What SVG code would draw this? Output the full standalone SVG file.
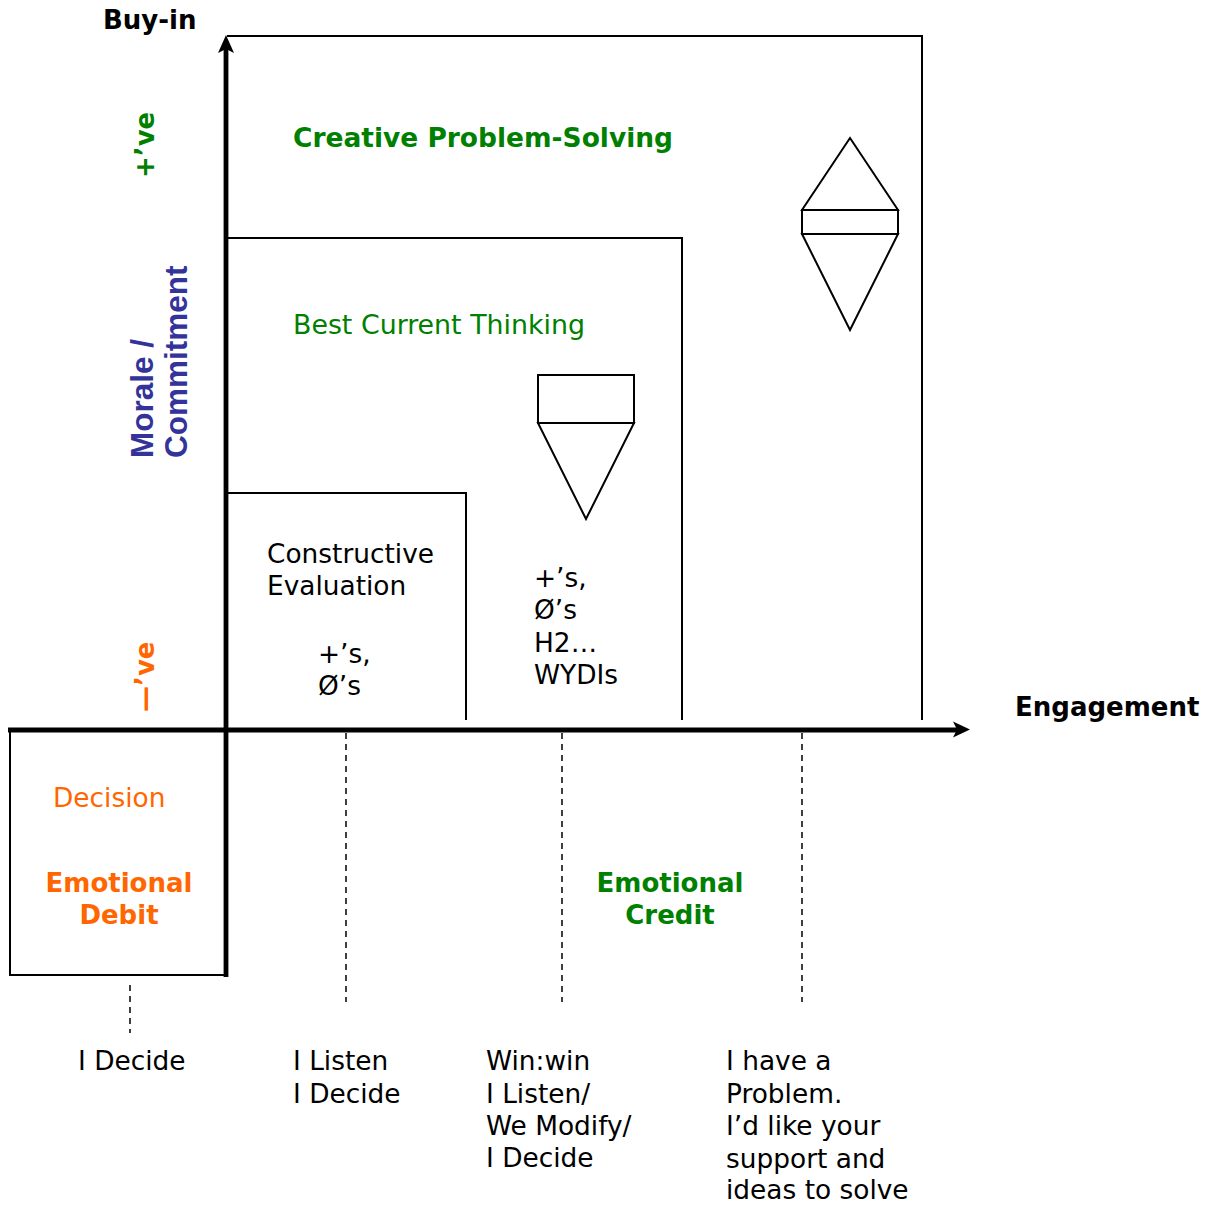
<svg xmlns="http://www.w3.org/2000/svg" width="1219" height="1206" viewBox="0 0 1219 1206">
  <style>
    text { font-family: "DejaVu Sans", Verdana, sans-serif; font-size: 26.4px; fill: #000; }
    .b { font-weight: bold; font-size: 26px; }
    .green { fill: #008000; }
    .orange { fill: #FF6600; }
    .blue { fill: #333399; font-family: "Liberation Sans", Arial, sans-serif; font-weight: bold; font-size: 31.5px; }
    .box { fill: none; stroke: #000; stroke-width: 2; }
    .axis { fill: none; stroke: #000; stroke-width: 4.8; }
    .head { fill: #000; stroke: none; }
    .dash { fill: none; stroke: #000; stroke-width: 1.5; stroke-dasharray: 6 5; }
    .shape { fill: #fff; stroke: #000; stroke-width: 2; stroke-linejoin: miter; }
  </style>
  <rect width="1219" height="1206" fill="#fff"/>

  <!-- nested regions -->
  <g id="creative-problem-solving">
    <polyline class="box" points="227,36 922,36 922,720"/>
    <text x="293" y="147" class="b green" textLength="380" lengthAdjust="spacingAndGlyphs">Creative Problem-Solving</text>
    <g id="diamond">
      <polygon class="shape" points="850,138 898,210 802,210"/>
      <rect class="shape" x="802" y="210" width="96" height="24"/>
      <polygon class="shape" points="802,234 898,234 850,330"/>
    </g>
  </g>
  <g id="best-current-thinking">
    <polyline class="box" points="227,238 682,238 682,720"/>
    <text x="293" y="334" class="green" textLength="292" lengthAdjust="spacingAndGlyphs">Best Current Thinking</text>
    <g id="funnel">
      <rect class="shape" x="538" y="375" width="96" height="48"/>
      <polygon class="shape" points="538,423 634,423 586,519"/>
    </g>
    <text x="534" y="587">+’s,</text>
    <text x="534" y="619">Ø’s</text>
    <text x="534" y="652">H2…</text>
    <text x="534" y="684">WYDIs</text>
  </g>
  <g id="constructive-evaluation">
    <polyline class="box" points="227,493 466,493 466,720"/>
    <text x="267" y="563">Constructive</text>
    <text x="267" y="595">Evaluation</text>
    <text x="318" y="663">+’s,</text>
    <text x="318" y="695">Ø’s</text>
  </g>
  <g id="emotional-debit">
    <polyline class="box" points="226,975 10,975 10,730"/>
    <text x="53" y="807" class="orange">Decision</text>
    <text x="119" y="892" class="b orange" text-anchor="middle">Emotional</text>
    <text x="119" y="924" class="b orange" text-anchor="middle">Debit</text>
  </g>
  <g id="emotional-credit">
    <text x="670" y="892" class="b green" text-anchor="middle">Emotional</text>
    <text x="670" y="924" class="b green" text-anchor="middle">Credit</text>
  </g>

  <!-- axes and guides -->
  <g id="connectors">
    <line class="axis" x1="226" y1="977" x2="226" y2="48"/>
    <path class="head" d="M226,35 L234,53 L226,49 L218,53 Z"/>
    <line class="axis" x1="8" y1="730" x2="958" y2="730"/>
    <path class="head" d="M970,729.5 L953,737.5 L957,729.5 L953,721.5 Z"/>
    <line class="dash" x1="130" y1="985" x2="130" y2="1033"/>
    <line class="dash" x1="346" y1="733" x2="346" y2="1002"/>
    <line class="dash" x1="562" y1="733" x2="562" y2="1002"/>
    <line class="dash" x1="802" y1="733" x2="802" y2="1002"/>
  </g>

  <!-- axis labels -->
  <g id="axis-labels">
    <text x="103" y="29" class="b">Buy-in</text>
    <text x="1015" y="716" class="b">Engagement</text>
    <text class="b green" transform="translate(154,178) rotate(-90)">+’ve</text>
    <text class="b orange" transform="translate(154,712) rotate(-90)">—’ve</text>
    <text class="blue" transform="translate(153,458) rotate(-90)">Morale /</text>
    <text class="blue" transform="translate(187,458) rotate(-90)">Commitment</text>
  </g>

  <!-- decision styles along the engagement axis -->
  <g id="style-decide">
    <text x="78" y="1070">I Decide</text>
  </g>
  <g id="style-listen">
    <text x="293" y="1070">I Listen</text>
    <text x="293" y="1103">I Decide</text>
  </g>
  <g id="style-winwin">
    <text x="486" y="1070">Win:win</text>
    <text x="486" y="1103">I Listen/</text>
    <text x="486" y="1135">We Modify/</text>
    <text x="486" y="1167">I Decide</text>
  </g>
  <g id="style-problem">
    <text x="726" y="1070">I have a</text>
    <text x="726" y="1103">Problem.</text>
    <text x="726" y="1135">I’d like your</text>
    <text x="726" y="1168">support and</text>
    <text x="726" y="1199">ideas to solve</text>
  </g>
</svg>
